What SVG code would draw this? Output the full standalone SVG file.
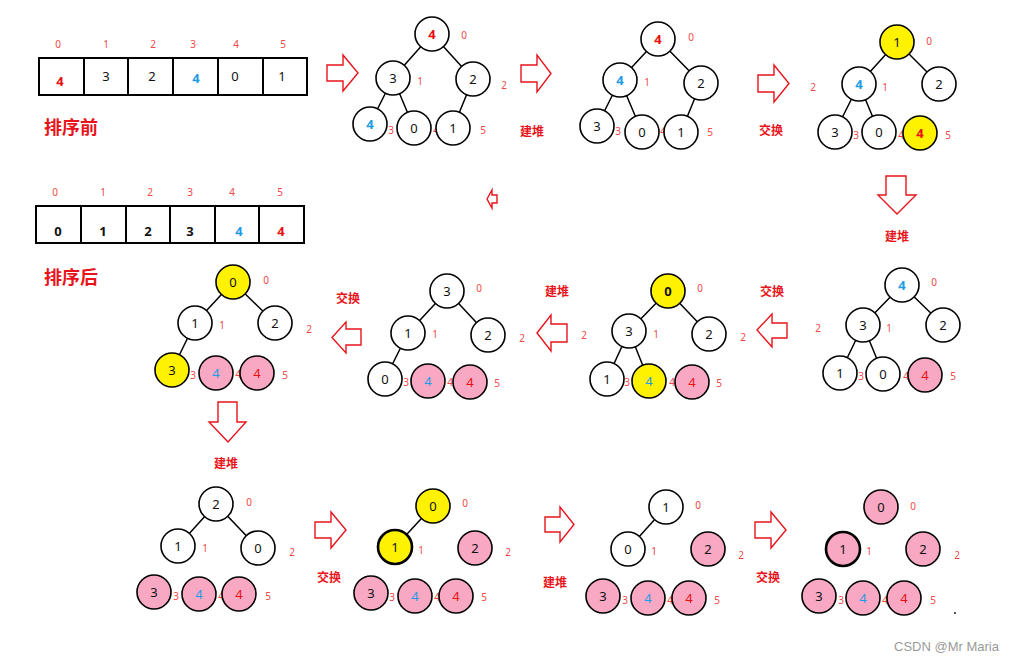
<svg xmlns="http://www.w3.org/2000/svg" width="1012" height="662" viewBox="0 0 1012 662">
<style>
.bg{fill:#fff}
.n{stroke:#000;stroke-width:1.6}
.nb{stroke:#000;stroke-width:2.6}
.w{fill:#fff}.y{fill:#fff200}.p{fill:#f9a8c4}
.v{font-family:"Noto Sans","Liberation Sans",sans-serif;font-size:13px;text-anchor:middle;fill:#111}
.av{font-family:"Noto Sans","Liberation Sans",sans-serif;font-size:13px;text-anchor:middle;fill:#111}
.ab{font-weight:bold}
.vr{fill:#e81010}.vb{fill:#1e9be6}
.i{font-family:"Noto Sans","Liberation Sans",sans-serif;font-size:10px;text-anchor:middle;fill:#f04848}
.cn{font-family:"Noto Sans CJK SC",sans-serif;font-size:12px;font-weight:bold;text-anchor:middle;fill:#e8141c}
.big{font-family:"Noto Sans CJK SC",sans-serif;font-size:18px;font-weight:bold;fill:#e8141c}
.arr{fill:#fff;stroke:#e8141c;stroke-width:1.4}
.e{stroke:#000;stroke-width:1.5}
.cell{fill:#fff;stroke:#000;stroke-width:2}
</style>
<rect class="bg" x="0" y="0" width="1012" height="662"/>

<!-- arrays -->
<g id="array-before">
<rect class="cell" x="39" y="58" width="268" height="37"/>
<path d="M84,58V95M128,58V95M173,58V95M218,58V95M263,58V95" stroke="#000" stroke-width="2"/>
<text class="i" x="58" y="48">0</text><text class="i" x="106" y="48">1</text><text class="i" x="153" y="48">2</text><text class="i" x="193" y="48">3</text><text class="i" x="236" y="48">4</text><text class="i" x="283" y="48">5</text>
<text class="av vr ab" x="60" y="86">4</text><text class="av" x="106" y="81">3</text><text class="av" x="152" y="81">2</text><text class="av vb ab" x="196" y="83">4</text><text class="av" x="235" y="81">0</text><text class="av" x="282" y="81">1</text>
<text class="big" x="44" y="134">排序前</text>
</g>
<g id="array-after">
<rect class="cell" x="36" y="206" width="268" height="37"/>
<path d="M81,206V243M126,206V243M170,206V243M215,206V243M259,206V243" stroke="#000" stroke-width="2"/>
<text class="i" x="55" y="196">0</text><text class="i" x="103" y="196">1</text><text class="i" x="150" y="196">2</text><text class="i" x="190" y="196">3</text><text class="i" x="232" y="196">4</text><text class="i" x="280" y="196">5</text>
<text class="av ab" x="58" y="236">0</text><text class="av ab" x="103" y="236">1</text><text class="av ab" x="148" y="236">2</text><text class="av ab" x="190" y="236">3</text><text class="av ab vb" x="239" y="236">4</text><text class="av ab vr" x="281" y="236">4</text>
<text class="big" x="44" y="284">排序后</text>
</g>

<!-- step arrows and labels -->
<g id="arrows">
<polygon class="arr" points="327,65 343,65 343,55 358,73 343,91 343,81 327,81"/>
<polygon class="arr" points="521,65 537,65 537,55 551,73.5 537,92 537,82 521,82"/>
<polygon class="arr" points="758,75 774,75 774,65 789,83.5 774,102 774,92 758,92"/>
<polygon class="arr" points="886,176 906,176 906,195 916,195 897,214 878,195 886,195"/>
<polygon class="arr" points="757,330 772,314 772,323 787,323 787,338 772,338 772,347"/>
<polygon class="arr" points="537,333 551,315 551,324 567,324 567,342 551,342 551,351"/>
<polygon class="arr" points="332,337.5 346,322 346,329 361,329 361,345 346,345 346,353"/>
<polygon class="arr" points="487,199 492,190 492,195 497,195 497,203 492,203 492,208"/>
<polygon class="arr" points="218,402 237,402 237,422 246,422 228,442 209,422 218,422"/>
<polygon class="arr" points="315,522 331,522 331,512 346,530 331,548 331,538 315,538"/>
<polygon class="arr" points="545,517 560,517 560,507 574,524.5 560,542 560,532 545,532"/>
<polygon class="arr" points="755,522 771,522 771,512 786,530 771,548 771,538 755,538"/>
<text class="cn" x="532" y="136">建堆</text>
<text class="cn" x="771" y="135">交换</text>
<text class="cn" x="897" y="241">建堆</text>
<text class="cn" x="772" y="296">交换</text>
<text class="cn" x="557" y="296">建堆</text>
<text class="cn" x="348" y="303">交换</text>
<text class="cn" x="226" y="468">建堆</text>
<text class="cn" x="329" y="582">交换</text>
<text class="cn" x="555" y="587">建堆</text>
<text class="cn" x="768" y="582">交换</text>
</g>

<!-- connectors -->
<g id="connectors">
<path class="e" d="M432,34L393,78M432,34L473,79M393,78L370,124M393,78L414,128M473,79L453,128"/>
<path class="e" d="M658,39L620,80M658,39L701,83M620,80L597,126M620,80L642,132M701,83L681,132"/>
<path class="e" d="M897,42L859,84M897,42L939,84M859,84L835,132M859,84L879,132"/>
<path class="e" d="M902,285L863,325M902,285L943,325M863,325L840,373M863,325L883,374"/>
<path class="e" d="M668,291L629,331M668,291L709,334M629,331L607,379M629,331L649,381"/>
<path class="e" d="M447,291L408,333M447,291L488,335M408,333L385,379"/>
<path class="e" d="M233,282L195,323M233,282L275,323M195,323L172,370"/>
<path class="e" d="M216,504L178,546M216,504L258,548"/>
<path class="e" d="M433,506L395,547"/>
<path class="e" d="M666,507L628,549"/>
</g>

<!-- tree 1 -->
<g id="t1-n0"><circle class="n w" cx="432" cy="34" r="17"/><text class="v vr ab" x="432" y="39">4</text><text class="i" x="464" y="39">0</text></g>
<g id="t1-n1"><circle class="n w" cx="393" cy="78" r="17"/><text class="v" x="393" y="83">3</text><text class="i" x="420" y="85">1</text></g>
<g id="t1-n2"><circle class="n w" cx="473" cy="79" r="17"/><text class="v" x="473" y="84">2</text><text class="i" x="504" y="89">2</text></g>
<g id="t1-n3"><circle class="n w" cx="370" cy="124" r="17"/><text class="v vb ab" x="370" y="129">4</text><text class="i" x="391" y="134">3</text></g>
<g id="t1-n4"><circle class="n w" cx="414" cy="128" r="17"/><text class="v" x="414" y="133">0</text><text class="i" x="436" y="134">4</text></g>
<g id="t1-n5"><circle class="n w" cx="453" cy="128" r="17"/><text class="v" x="453" y="133">1</text><text class="i" x="483" y="134">5</text></g>

<!-- tree 2 -->
<g id="t2-n0"><circle class="n w" cx="658" cy="39" r="17"/><text class="v vr ab" x="658" y="44">4</text><text class="i" x="691" y="41">0</text></g>
<g id="t2-n1"><circle class="n w" cx="620" cy="80" r="17"/><text class="v vb ab" x="620" y="85">4</text><text class="i" x="647" y="86">1</text></g>
<g id="t2-n2"><circle class="n w" cx="701" cy="83" r="17"/><text class="v" x="701" y="88">2</text><text class="i" x="813" y="91">2</text></g>
<g id="t2-n3"><circle class="n w" cx="597" cy="126" r="17"/><text class="v" x="597" y="131">3</text><text class="i" x="618" y="135">3</text></g>
<g id="t2-n4"><circle class="n w" cx="642" cy="132" r="17"/><text class="v" x="642" y="137">0</text><text class="i" x="663" y="135">4</text></g>
<g id="t2-n5"><circle class="n w" cx="681" cy="132" r="17"/><text class="v" x="681" y="137">1</text><text class="i" x="710" y="136">5</text></g>

<!-- tree 3 -->
<g id="t3-n0"><circle class="n y" cx="897" cy="42" r="17"/><text class="v" x="897" y="47">1</text><text class="i" x="929" y="45">0</text></g>
<g id="t3-n1"><circle class="n w" cx="859" cy="84" r="17"/><text class="v vb ab" x="859" y="89">4</text><text class="i" x="885" y="91">1</text></g>
<g id="t3-n2"><circle class="n w" cx="939" cy="84" r="17"/><text class="v" x="939" y="89">2</text></g>
<g id="t3-n3"><circle class="n w" cx="835" cy="132" r="17"/><text class="v" x="835" y="137">3</text><text class="i" x="856" y="139">3</text></g>
<g id="t3-n4"><circle class="n w" cx="879" cy="132" r="17"/><text class="v" x="879" y="137">0</text><text class="i" x="901" y="139">4</text></g>
<g id="t3-n5"><circle class="n y" cx="920" cy="133" r="17"/><text class="v vr ab" x="920" y="138">4</text><text class="i" x="948" y="139">5</text></g>

<!-- tree 4 (row 2 right) -->
<g id="t4-n0"><circle class="n w" cx="902" cy="285" r="17"/><text class="v vb ab" x="902" y="290">4</text><text class="i" x="934" y="286">0</text></g>
<g id="t4-n1"><circle class="n w" cx="863" cy="325" r="17"/><text class="v" x="863" y="330">3</text><text class="i" x="889" y="332">1</text></g>
<g id="t4-n2"><circle class="n w" cx="943" cy="325" r="17"/><text class="v" x="943" y="330">2</text><text class="i" x="818" y="332">2</text></g>
<g id="t4-n3"><circle class="n w" cx="840" cy="373" r="17"/><text class="v" x="840" y="378">1</text><text class="i" x="861" y="380">3</text></g>
<g id="t4-n4"><circle class="n w" cx="883" cy="374" r="17"/><text class="v" x="883" y="379">0</text><text class="i" x="906" y="380">4</text></g>
<g id="t4-n5"><circle class="n p" cx="925" cy="375" r="17"/><text class="v vr" x="925" y="380">4</text><text class="i" x="953" y="380">5</text></g>
<text class="i" x="743" y="341">2</text>

<!-- tree 5 -->
<g id="t5-n0"><circle class="n y" cx="668" cy="291" r="17"/><text class="v ab" x="668" y="296">0</text><text class="i" x="700" y="292">0</text></g>
<g id="t5-n1"><circle class="n w" cx="629" cy="331" r="17"/><text class="v" x="629" y="336">3</text><text class="i" x="656" y="338">1</text></g>
<g id="t5-n2"><circle class="n w" cx="709" cy="334" r="17"/><text class="v" x="709" y="339">2</text><text class="i" x="584" y="339">2</text></g>
<g id="t5-n3"><circle class="n w" cx="607" cy="379" r="17"/><text class="v" x="607" y="384">1</text><text class="i" x="627" y="386">3</text></g>
<g id="t5-n4"><circle class="n y" cx="649" cy="381" r="17"/><text class="v vb" x="649" y="386">4</text><text class="i" x="672" y="386">4</text></g>
<g id="t5-n5"><circle class="n p" cx="692" cy="382" r="17"/><text class="v vr" x="692" y="387">4</text><text class="i" x="719" y="387">5</text></g>

<!-- tree 6 -->
<g id="t6-n0"><circle class="n w" cx="447" cy="291" r="17"/><text class="v" x="447" y="296">3</text><text class="i" x="479" y="292">0</text></g>
<g id="t6-n1"><circle class="n w" cx="408" cy="333" r="17"/><text class="v" x="408" y="338">1</text><text class="i" x="435" y="338">1</text></g>
<g id="t6-n2"><circle class="n w" cx="488" cy="335" r="17"/><text class="v" x="488" y="340">2</text><text class="i" x="522" y="342">2</text></g>
<g id="t6-n3"><circle class="n w" cx="385" cy="379" r="17"/><text class="v" x="385" y="384">0</text><text class="i" x="406" y="386">3</text></g>
<g id="t6-n4"><circle class="n p" cx="428" cy="381" r="17"/><text class="v vb" x="428" y="386">4</text><text class="i" x="450" y="386">4</text></g>
<g id="t6-n5"><circle class="n p" cx="470" cy="382" r="17"/><text class="v vr" x="470" y="387">4</text><text class="i" x="497" y="387">5</text></g>

<!-- tree 7 -->
<g id="t7-n0"><circle class="n y" cx="233" cy="282" r="17"/><text class="v" x="233" y="287">0</text><text class="i" x="266" y="284">0</text></g>
<g id="t7-n1"><circle class="n w" cx="195" cy="323" r="17"/><text class="v" x="195" y="328">1</text><text class="i" x="222" y="329">1</text></g>
<g id="t7-n2"><circle class="n w" cx="275" cy="323" r="17"/><text class="v" x="275" y="328">2</text><text class="i" x="309" y="333">2</text></g>
<g id="t7-n3"><circle class="n y" cx="172" cy="370" r="17"/><text class="v" x="172" y="375">3</text><text class="i" x="193" y="379">3</text></g>
<g id="t7-n4"><circle class="n p" cx="216" cy="373" r="17"/><text class="v vb" x="216" y="378">4</text><text class="i" x="238" y="378">4</text></g>
<g id="t7-n5"><circle class="n p" cx="257" cy="373" r="17"/><text class="v vr" x="257" y="378">4</text><text class="i" x="285" y="379">5</text></g>

<!-- tree 8 -->
<g id="t8-n0"><circle class="n w" cx="216" cy="504" r="17"/><text class="v" x="216" y="509">2</text><text class="i" x="249" y="506">0</text></g>
<g id="t8-n1"><circle class="n w" cx="178" cy="546" r="17"/><text class="v" x="178" y="551">1</text><text class="i" x="205" y="552">1</text></g>
<g id="t8-n2"><circle class="n w" cx="258" cy="548" r="17"/><text class="v" x="258" y="553">0</text><text class="i" x="292" y="556">2</text></g>
<g id="t8-n3"><circle class="n p" cx="154" cy="592" r="17"/><text class="v" x="154" y="597">3</text><text class="i" x="176" y="600">3</text></g>
<g id="t8-n4"><circle class="n p" cx="199" cy="594" r="17"/><text class="v vb" x="199" y="599">4</text><text class="i" x="221" y="600">4</text></g>
<g id="t8-n5"><circle class="n p" cx="239" cy="594" r="17"/><text class="v vr" x="239" y="599">4</text><text class="i" x="268" y="600">5</text></g>

<!-- tree 9 -->
<g id="t9-n0"><circle class="n y" cx="433" cy="506" r="17"/><text class="v" x="433" y="511">0</text><text class="i" x="465" y="507">0</text></g>
<g id="t9-n1"><circle class="nb y" cx="395" cy="547" r="17"/><text class="v" x="395" y="552">1</text><text class="i" x="421" y="554">1</text></g>
<g id="t9-n2"><circle class="n p" cx="475" cy="548" r="17"/><text class="v" x="475" y="553">2</text><text class="i" x="508" y="556">2</text></g>
<g id="t9-n3"><circle class="n p" cx="371" cy="593" r="17"/><text class="v" x="371" y="598">3</text><text class="i" x="392" y="601">3</text></g>
<g id="t9-n4"><circle class="n p" cx="415" cy="596" r="17"/><text class="v vb" x="415" y="601">4</text><text class="i" x="437" y="601">4</text></g>
<g id="t9-n5"><circle class="n p" cx="456" cy="596" r="17"/><text class="v vr" x="456" y="601">4</text><text class="i" x="484" y="601">5</text></g>

<!-- tree 10 -->
<g id="t10-n0"><circle class="n w" cx="666" cy="507" r="17"/><text class="v" x="666" y="512">1</text><text class="i" x="698" y="509">0</text></g>
<g id="t10-n1"><circle class="n w" cx="628" cy="549" r="17"/><text class="v" x="628" y="554">0</text><text class="i" x="654" y="555">1</text></g>
<g id="t10-n2"><circle class="n p" cx="708" cy="549" r="17"/><text class="v" x="708" y="554">2</text><text class="i" x="741" y="559">2</text></g>
<g id="t10-n3"><circle class="n p" cx="603" cy="596" r="17"/><text class="v" x="603" y="601">3</text><text class="i" x="625" y="604">3</text></g>
<g id="t10-n4"><circle class="n p" cx="648" cy="598" r="17"/><text class="v vb" x="648" y="603">4</text><text class="i" x="670" y="604">4</text></g>
<g id="t10-n5"><circle class="n p" cx="689" cy="598" r="17"/><text class="v vr" x="689" y="603">4</text><text class="i" x="717" y="604">5</text></g>

<!-- tree 11 -->
<g id="t11-n0"><circle class="n p" cx="881" cy="507" r="17"/><text class="v" x="881" y="512">0</text><text class="i" x="913" y="510">0</text></g>
<g id="t11-n1"><circle class="nb p" cx="843" cy="549" r="17"/><text class="v" x="843" y="554">1</text><text class="i" x="869" y="555">1</text></g>
<g id="t11-n2"><circle class="n p" cx="923" cy="549" r="17"/><text class="v" x="923" y="554">2</text><text class="i" x="957" y="559">2</text></g>
<g id="t11-n3"><circle class="n p" cx="819" cy="596" r="17"/><text class="v" x="819" y="601">3</text><text class="i" x="841" y="604">3</text></g>
<g id="t11-n4"><circle class="n p" cx="863" cy="598" r="17"/><text class="v vb" x="863" y="603">4</text><text class="i" x="885" y="604">4</text></g>
<g id="t11-n5"><circle class="n p" cx="904" cy="598" r="17"/><text class="v vr" x="904" y="603">4</text><text class="i" x="933" y="604">5</text></g>
<circle cx="955" cy="613" r="0.9" fill="#000"/>

<text x="894" y="651" font-family="'Liberation Sans',Arial,sans-serif" font-size="13" fill="#9a9a9a">CSDN @Mr Maria</text>
</svg>
